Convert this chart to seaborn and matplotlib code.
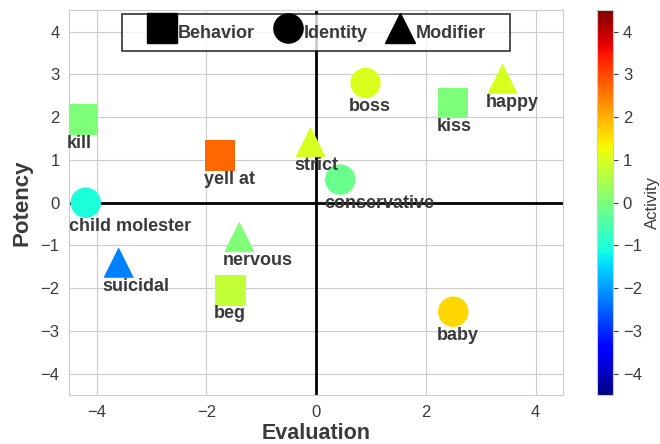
import matplotlib
matplotlib.use("Agg")
import matplotlib.pyplot as plt
import seaborn as sns
import pandas as pd
import numpy as np
from matplotlib.lines import Line2D
from matplotlib.path import Path

labels = ["kill", "yell at", "strict", "conservative", "child molester", "suicidal",
          "nervous", "beg", "boss", "kiss", "happy", "baby"]
kinds = ["Behavior", "Behavior", "Modifier", "Identity", "Identity", "Modifier",
         "Modifier", "Behavior", "Identity", "Behavior", "Modifier", "Identity"]
evaluation = [-4.25, -1.75, -0.1, 0.44, -4.2, -3.6, -1.4, -1.56, 0.9, 2.5, 3.4, 2.5]
potency = [1.94, 1.1, 1.42, 0.54, 0.0, -1.4, -0.8, -2.05, 2.8, 2.33, 2.9, -2.55]
activity = [0.0, 2.7, 1.0, -0.2, -1.05, -2.25, 0.05, 0.75, 1.05, 0.0, 1.0, 1.65]
legend_kinds = ["Behavior", "Identity", "Modifier"]

df = pd.DataFrame({"label": labels, "kind": kinds, "E": evaluation, "P": potency, "A": activity})

sns.set_style("whitegrid")
plt.rcParams["font.family"] = ["Liberation Sans", "DejaVu Sans"]

fig = plt.figure(figsize=(6.6, 4.44), dpi=100)
ax = fig.add_axes([0.105, 0.110, 0.748, 0.867])
cax = fig.add_axes([0.905, 0.110, 0.024, 0.867])

jet = matplotlib.colormaps["jet"]
norm = plt.Normalize(-4.5, 4.5)
markers = {"Behavior": "s", "Identity": "o", "Modifier": "^"}
ax.axhline(0, color="black", lw=2, zorder=1)
ax.axvline(0, color="black", lw=2, zorder=1)
sns.scatterplot(data=df, x="E", y="P", hue="A", palette=jet, hue_norm=norm,
                style="kind", markers=markers, s=480, linewidth=0, legend=False,
                ax=ax, zorder=3)

for _, r in df.iterrows():
    ax.text(r.E - 0.3, r.P - 0.55, r.label, fontsize=13, fontweight="bold",
            color="#3a3a3a", va="center", ha="left", zorder=4)

ax.set_xlim(-4.5, 4.5)
ax.set_ylim(-4.5, 4.5)
ax.set_xticks([-4, -2, 0, 2, 4])
ax.set_yticks([-4, -3, -2, -1, 0, 1, 2, 3, 4])
ax.set_xlabel("Evaluation", fontsize=15.5, fontweight="bold", color="#3a3a3a", labelpad=2)
ax.set_ylabel("Potency", fontsize=16, fontweight="bold", color="#3a3a3a", labelpad=6)
ax.tick_params(labelsize=12, colors="#3a3a3a")

handles = [Line2D([], [], marker=markers[k], color="black", linestyle="none", markersize=21)
           for k in legend_kinds]
leg = ax.legend(handles, legend_kinds, loc="upper center",
                ncol=3, frameon=True, fancybox=False, edgecolor="black",
                handletextpad=0.0, columnspacing=0.95, borderpad=0.22,
                handlelength=1.75, handleheight=2.1, borderaxespad=0.2,
                prop={"weight": "bold", "size": 13}, bbox_to_anchor=(0.5, 1.0))


def widebox(x0, y0, width, height, mutation_size):
    dx = 1.1 * mutation_size
    return Path([(x0 - dx, y0), (x0 + width + dx, y0), (x0 + width + dx, y0 + height),
                 (x0 - dx, y0 + height), (x0 - dx, y0)],
                [Path.MOVETO, Path.LINETO, Path.LINETO, Path.LINETO, Path.CLOSEPOLY])


leg.get_frame().set_boxstyle(widebox)
leg.get_frame().set_linewidth(1.2)
for t in leg.get_texts():
    t.set_color("#3a3a3a")

sm = plt.cm.ScalarMappable(norm=norm, cmap=jet)
cb = fig.colorbar(sm, cax=cax)
cb.set_ticks([-4, -3, -2, -1, 0, 1, 2, 3, 4])
cb.ax.tick_params(labelsize=12, colors="#3a3a3a")
cb.set_label("Activity", fontsize=12, color="#3a3a3a", labelpad=2)
cb.outline.set_edgecolor("#cccccc")

fig.savefig("out.png", dpi=100)
